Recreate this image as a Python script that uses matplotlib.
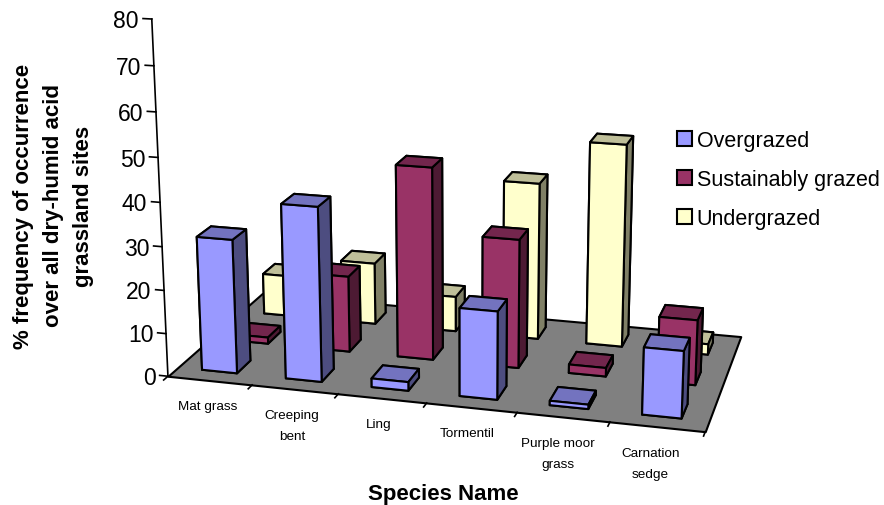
import matplotlib
matplotlib.use('Agg')
import matplotlib.pyplot as plt
from matplotlib.patches import Patch
from mpl_toolkits.mplot3d.art3d import Poly3DCollection

plt.rcParams['font.family'] = ['Liberation Sans', 'DejaVu Sans']

species = ['Mat grass', 'Creeping\nbent', 'Ling', 'Tormentil', 'Purple moor\ngrass', 'Carnation\nsedge']
series_names = ['Overgrazed', 'Sustainably grazed', 'Undergrazed']
overgrazed = [31, 40, 2, 20, 1, 15]
sustainably = [1.5, 18, 45, 30, 2, 15]
undergrazed = [10, 15, 8.5, 37.5, 48, 2.5]
yticks = [0, 10, 20, 30, 40, 50, 60, 70, 80]

fig = plt.figure(figsize=(8.84, 5.06), dpi=100)
ax = fig.add_subplot(projection='3d')
ax.set_xlim(0, 6)
ax.set_ylim(0, 3)
ax.set_zlim(0, 80)
# camera values fitted against the floor corners
ax.view_init(15.7707, -74.8598, 0.0220)
ax.set_proj_type('persp', focal_length=0.5204)
ax.set_box_aspect((1, 0.4887, 0.6724))
a = 21994.07 / 6
ulo, uhi = ax.viewLim.intervalx
vlo, vhi = ax.viewLim.intervaly
S = a * (uhi - ulo)
ax.set_position([(a * ulo + 462.25) / 884, (a * vlo + 318.58) / 506, S / 884, S / 506])
ax.set_axis_off()
ax.computed_zorder = False
ax.patch.set_alpha(0)

floor = Poly3DCollection([[(0, 0, 0), (6, 0, 0), (6, 3, 0), (0, 3, 0)]], facecolor='#808080', edgecolor='black', linewidth=1.5, zorder=1)
ax.add_collection3d(floor)

front = ['#9999FF', '#993366', '#FFFFCC']
top = ['#7373BF', '#73264D', '#BFBF99']
side = ['#4D4D80', '#4D1A33', '#808066']
values = [overgrazed, sustainably, undergrazed]
z = 2
for s in [2, 1, 0]:
    for i in range(6):
        # faces: -z, +z, -y, +y, -x, +x
        cols = [front[s], top[s], front[s], side[s], side[s], side[s]]
        ax.bar3d(i + 0.29, s + 0.29, 0, 0.42, 0.42, values[s][i], color=cols, edgecolor='black', linewidth=1.5, shade=False, zorder=z)
        z += 1

ax.plot([0, 0], [0, 0], [0, 80], color='black', lw=1.2, zorder=1)
for t in yticks:
    ax.plot([0, -0.1], [0, 0], [t, t], color='black', lw=1.2, zorder=1)
    ax.text(-0.15, 0, t, str(t), ha='right', va='center_baseline', fontsize=16.5)
for i in range(7):
    ax.plot([i, i], [0, -0.12], [0, 0], color='black', lw=1.2, zorder=1)
for i, name in enumerate(species):
    ax.text(0.955 * i + 0.77, -0.72, 1.5, name, ha='center', va='top', fontsize=9.7, linespacing=2.05)

fig.text(443 / 884, 1 - 495 / 506, 'Species Name', ha='center', va='center', fontsize=16, fontweight='bold')
fig.text(53.5 / 884, 1 - 206 / 506, '% frequency of occurrence\nover all dry-humid acid\ngrassland sites', rotation=90, ha='center', va='center', fontsize=16, fontweight='bold', linespacing=1.55)

handles = [Patch(facecolor=front[i], edgecolor='black', linewidth=1.5) for i in range(3)]
fig.legend(handles, series_names, loc='upper left', bbox_to_anchor=(668 / 884, 1 - 122.5 / 506), frameon=False, fontsize=15.5,
           handlelength=0.73, handleheight=0.73, handletextpad=0.2, labelspacing=0.83, borderpad=0.4, borderaxespad=0)

fig.savefig('out.png', dpi=100)
